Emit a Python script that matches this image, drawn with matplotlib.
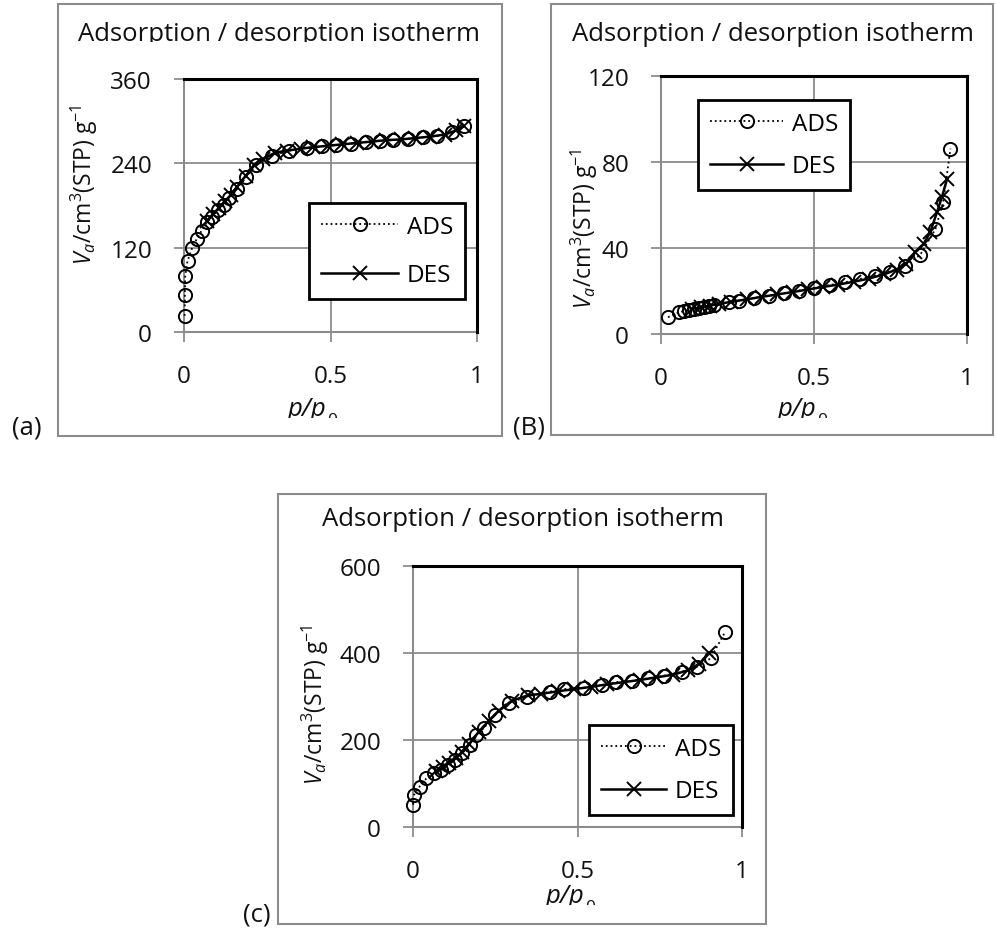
import matplotlib
matplotlib.use("Agg")
import matplotlib.pyplot as plt
from matplotlib.patches import Rectangle

plt.rcParams['font.family'] = ['Open Sans', 'DejaVu Sans']
plt.rcParams['mathtext.fontset'] = 'custom'
plt.rcParams['mathtext.rm'] = 'Open Sans'
plt.rcParams['mathtext.it'] = 'Open Sans:italic'

# ---- data ----
# (a)
a_ads_p = [0.002, 0.003, 0.004, 0.012, 0.028, 0.043, 0.06, 0.078, 0.095, 0.115, 0.135, 0.155,
           0.18, 0.21, 0.245, 0.30, 0.36, 0.42, 0.47, 0.52, 0.57, 0.62, 0.67, 0.715, 0.765,
           0.815, 0.865, 0.915, 0.955]
a_ads_v = [23, 53, 80, 101, 120, 132, 144, 156, 164, 173, 181, 190, 203, 220, 237, 251, 258,
           262, 264, 266, 268, 270, 272, 273, 275, 277, 279, 284, 293]
a_des_p = [0.955, 0.93, 0.89, 0.84, 0.79, 0.74, 0.69, 0.64, 0.59, 0.54, 0.49, 0.44, 0.40, 0.35,
           0.31, 0.27, 0.24, 0.21, 0.18, 0.16, 0.14, 0.12, 0.10, 0.08]
a_des_v = [293, 287, 281, 278, 276, 274, 273, 271, 269, 267, 265, 263, 261, 258, 255, 246, 237,
           222, 206, 195, 186, 177, 168, 158]

# (b)
b_ads_p = [0.023, 0.058, 0.074, 0.09, 0.107, 0.123, 0.139, 0.156, 0.172, 0.221, 0.254, 0.303,
           0.352, 0.401, 0.45, 0.499, 0.553, 0.602, 0.651, 0.70, 0.749, 0.798, 0.847, 0.897,
           0.922, 0.946]
b_ads_v = [7.8, 10.1, 10.6, 11.2, 11.6, 12.1, 12.4, 12.9, 13.5, 14.8, 15.5, 16.8, 17.9, 18.9,
           20.2, 21.4, 22.8, 24.1, 25.6, 27.2, 29.0, 31.8, 36.8, 48.9, 61.3, 86.2]
b_des_p = [0.935, 0.918, 0.902, 0.88, 0.858, 0.831, 0.80, 0.77, 0.73, 0.68, 0.63, 0.58, 0.53,
           0.48, 0.43, 0.38, 0.33, 0.28, 0.23, 0.19, 0.16, 0.13, 0.10]
b_des_v = [72.2, 63.7, 56.7, 47.4, 41.9, 38.0, 32.6, 30.0, 27.8, 25.8, 24.3, 23.0, 21.9, 20.7,
           19.5, 18.4, 17.3, 16.1, 15.0, 14.0, 13.2, 12.4, 11.6]

# (c)
c_ads_p = [0.0, 0.003, 0.02, 0.041, 0.063, 0.085, 0.107, 0.128, 0.15, 0.172, 0.193, 0.215,
           0.248, 0.291, 0.346, 0.416, 0.46, 0.52, 0.574, 0.617, 0.666, 0.715, 0.764, 0.818,
           0.862, 0.905, 0.949]
c_ads_v = [51, 74, 93, 112, 124, 131, 143, 154, 170, 189, 212, 227, 258, 284, 300, 311, 317,
           320, 326, 333, 336, 342, 348, 357, 368, 388, 449]
c_des_p = [0.90, 0.87, 0.835, 0.79, 0.74, 0.69, 0.64, 0.59, 0.54, 0.49, 0.44, 0.39, 0.35, 0.30,
           0.26, 0.23, 0.20, 0.17, 0.15, 0.13, 0.11, 0.09, 0.07]
c_des_v = [399, 375, 360, 350, 344, 338, 333, 328, 322, 317, 312, 306, 303, 290, 267, 244, 219,
           190, 173, 158, 147, 137, 128]

x_ticks = [0, 0.5, 1]
x_ticklabels = ['0', '0.5', '1']

W, H = 996, 937
fig = plt.figure(figsize=(W / 100, H / 100), dpi=100)
TXT = '#111111'


def fx(x):
    return x / W


def fy(y):
    return 1 - y / H


def clipper(x0, y0, x1, y1):
    r = Rectangle((fx(x0), fy(y1)), fx(x1) - fx(x0), fy(y0) - fy(y1), transform=fig.transFigure)
    return r


def panel(plot, frame, ymax, ystep, ads, des, title_xy, title_clip, ylab_xy, xlab_xy,
          xlab_clip, leg_xy, leg_sp, leg_hl, tag, tag_xy):
    # outer chart frame
    fr = Rectangle((fx(frame[0]), fy(frame[3])), fx(frame[2]) - fx(frame[0]),
                   fy(frame[1]) - fy(frame[3]), transform=fig.transFigure,
                   fill=False, edgecolor='#8c8c8c', lw=1.5)
    fig.patches.append(fr)

    x0, y0, x1, y1 = plot
    ax = fig.add_axes([fx(x0), fy(y1), fx(x1) - fx(x0), fy(y0) - fy(y1)])
    ax.set_xlim(0, 1)
    ax.set_ylim(0, ymax)
    ax.set_xticks(x_ticks)
    ax.set_xticklabels(x_ticklabels)
    yt = list(range(0, ymax + 1, ystep))
    ax.set_yticks(yt)
    ax.grid(True, color='#8c8c8c', lw=1.3)
    ax.set_axisbelow(True)
    for s in ['top', 'right']:
        ax.spines[s].set_color('black')
        ax.spines[s].set_linewidth(2.2)
        ax.spines[s].set_zorder(5)
    for s in ['left', 'bottom']:
        ax.spines[s].set_color('#8c8c8c')
        ax.spines[s].set_linewidth(1.5)
    ax.tick_params(direction='out', length=7, width=1.3, color='#8c8c8c',
                   labelsize=17.5, pad=16, labelcolor=TXT)

    ax.plot(ads[0], ads[1], ls=':', color='black', lw=1.3, marker='o', ms=9.5,
            mfc='none', mec='black', mew=1.4, label='ADS', clip_on=False, zorder=3)
    ax.plot(des[0], des[1], ls='-', color='black', lw=1.8, marker='x', ms=9.5,
            mec='black', mew=1.4, label='DES', clip_on=False, zorder=3)

    leg = ax.legend(loc='center', bbox_to_anchor=(fx(leg_xy[0]), fy(leg_xy[1])),
                    bbox_transform=fig.transFigure, fontsize=17.5, frameon=True,
                    fancybox=False, edgecolor='black', handlelength=leg_hl,
                    handletextpad=0.35, labelspacing=leg_sp, borderpad=0.5, numpoints=1)
    leg.get_frame().set_linewidth(2.0)
    leg.get_frame().set_alpha(None)
    leg.set_zorder(6)

    t = fig.text(fx(title_xy[0]), fy(title_xy[1]), 'Adsorption / desorption isotherm',
                 ha='center', va='baseline', fontsize=18.5, color=TXT)
    if title_clip is not None:
        t.set_clip_path(clipper(0, 0, W, title_clip))

    fig.text(fx(ylab_xy[0]), fy(ylab_xy[1]), r'$V_a$/cm$^3$(STP) g$^{-1}$', rotation=90,
             ha='center', va='center', fontsize=16.5, color=TXT)

    # x label "p/p0": subscript sits low and is cut by the chart area, as in the source
    xl = fig.text(fx(xlab_xy[0] + 6), fy(xlab_xy[1]), 'p/p', ha='right', va='baseline',
                  fontsize=18.5, style='italic', color=TXT)
    xs = fig.text(fx(xlab_xy[0] + 7), fy(xlab_xy[1] + 9), '0', ha='left', va='baseline',
                  fontsize=12.5, color=TXT)
    for tt in (xl, xs):
        tt.set_clip_path(clipper(0, 0, W, xlab_clip))

    fig.text(fx(tag_xy[0]), fy(tag_xy[1]), tag, ha='center', va='center', fontsize=18.5,
             color=TXT)
    return ax


panel((184, 80, 477, 333), (58, 5, 502, 437), 360, 120,
      (a_ads_p, a_ads_v), (a_des_p, a_des_v),
      (279, 41), 43, (84, 185), (320, 416), 419, (387, 252), 1.0, 3.2, '(a)', (27, 428))

panel((661, 77, 967, 335), (551, 5, 993, 436), 120, 40,
      (b_ads_p, b_ads_v), (b_des_p, b_des_v),
      (773, 41), None, (584, 229), (810, 416), 419, (774, 146), 0.75, 3.0, '(B)', (529, 428))

panel((413, 567, 742, 828), (278, 495, 766, 925), 600, 200,
      (c_ads_p, c_ads_v), (c_des_p, c_des_v),
      (523, 526), None, (315, 705), (578, 903), 906, (661, 771), 0.75, 2.7, '(c)', (257, 915))

fig.savefig('out.png', dpi=100)
